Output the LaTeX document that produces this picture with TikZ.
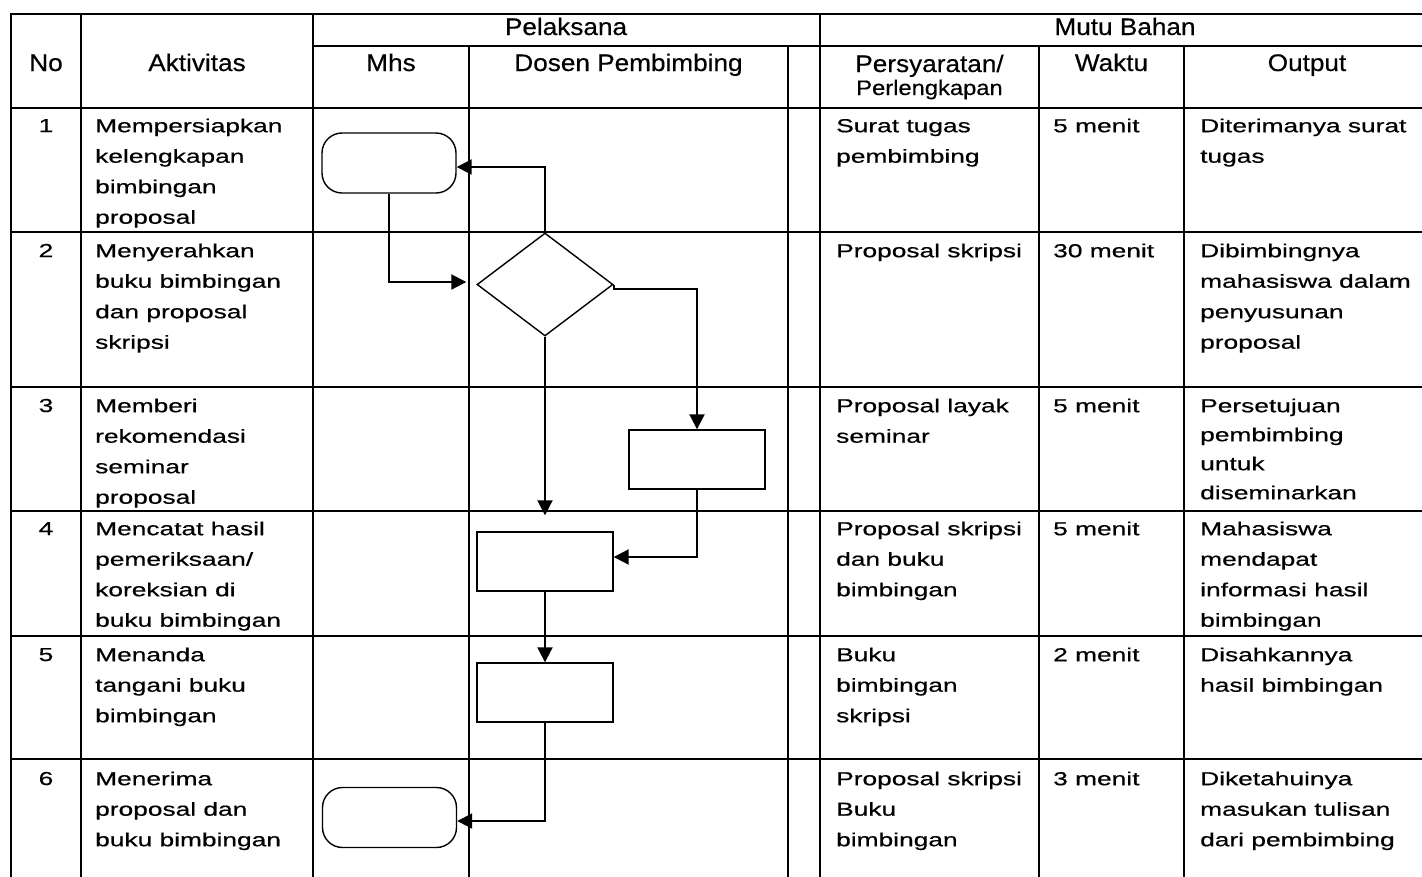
\documentclass[tikz,border=0pt]{standalone}
\usepackage{fontspec}
\setmainfont{Liberation Sans}
\newfontfamily\bodyfont[FakeStretch=1.4,FakeBold=0.6]{Liberation Sans}
\newfontfamily\headfont[FakeStretch=1.09,FakeBold=0.4]{Liberation Sans}
\newfontfamily\subheadfont[FakeStretch=1.13,FakeBold=0.4]{Liberation Sans}
\usetikzlibrary{shapes.geometric,arrows.meta}
\begin{document}
\begin{tikzpicture}[x=1pt,y=-1pt,
  grid/.style={line width=2pt},
  body/.style={anchor=north west, inner sep=0pt, align=left,
    font=\bodyfont\fontsize{18.8}{30.5}\selectfont},
  tight/.style={font=\bodyfont\fontsize{18.8}{29}\selectfont},
  num/.style={anchor=base, inner sep=0pt, font=\bodyfont\fontsize{18.8}{30.5}\selectfont},
  head/.style={anchor=base, inner sep=0pt, font=\headfont\fontsize{24}{28}\selectfont},
  subhead/.style={anchor=base, inner sep=0pt, font=\subheadfont\fontsize{21}{24}\selectfont},
  term/.style={draw, line width=1.4pt, rectangle, rounded corners=20pt,
    minimum width=134pt, minimum height=60pt, inner sep=0pt},
  proc/.style={draw, line width=1.4pt, rectangle,
    minimum width=136pt, minimum height=59pt, inner sep=0pt},
  decis/.style={draw, line width=1.4pt, diamond, aspect=1.32,
    minimum width=136pt, minimum height=103pt, inner sep=0pt},
  conn/.style={line width=2pt, -{Triangle[length=15pt,width=15pt]}}
]
\useasboundingbox (0,0) rectangle (1422,876);
\clip (0,0) rectangle (1422,876);

% ---------- grid ----------
\draw[grid] (10,14) -- (1440,14);
\draw[grid] (313,46) -- (1440,46);
\foreach \yy in {108,232,387,511,636,759}{
  \draw[grid] (10,\yy) -- (1440,\yy);
}
\foreach \xx in {11,81,313,820}{
  \draw[grid] (\xx,13) -- (\xx,900);
}
\foreach \xx in {469,788,1039,1184}{
  \draw[grid] (\xx,46) -- (\xx,900);
}

% ---------- headers ----------
\node[head] (hpel) at (566,35) {Pelaksana};
\node[head] (hmutu) at (1125,35) {Mutu Bahan};
\node[head] (hno) at (46,71) {No};
\node[head] (hakt) at (197,71) {Aktivitas};
\node[head] (hmhs) at (391,71) {Mhs};
\node[head] (hdos) at (628.5,71) {Dosen Pembimbing};
\node[head] (hper1) at (929.5,72) {Persyaratan/};
\node[subhead] (hper2) at (929.5,95) {Perlengkapan};
\node[head] (hwak) at (1111.5,71) {Waktu};
\node[head] (hout) at (1307,71) {Output};

% ---------- row 1 (baseline 132) ----------
\node[num] (n1) at (46,132) {1};
\node[body] (a1) at (95,110.65) {\strut Mempersiapkan\\kelengkapan\\bimbingan\\proposal};
\node[body] (p1) at (836,110.65) {\strut Surat tugas\\pembimbing};
\node[body] (w1) at (1053,110.65) {\strut 5 menit};
\node[body] (o1) at (1200,110.65) {\strut Diterimanya surat\\tugas};

% ---------- row 2 (baseline 257) ----------
\node[num] (n2) at (46,257) {2};
\node[body] (a2) at (95,235.65) {\strut Menyerahkan\\buku bimbingan\\dan proposal\\skripsi};
\node[body] (p2) at (836,235.65) {\strut Proposal skripsi};
\node[body] (w2) at (1053,235.65) {\strut 30 menit};
\node[body] (o2) at (1200,235.65) {\strut Dibimbingnya\\mahasiswa dalam\\penyusunan\\proposal};

% ---------- row 3 (baseline 412) ----------
\node[num] (n3) at (46,412) {3};
\node[body] (a3) at (95,390.65) {\strut Memberi\\rekomendasi\\seminar\\proposal};
\node[body] (p3) at (836,390.65) {\strut Proposal layak\\seminar};
\node[body] (w3) at (1053,390.65) {\strut 5 menit};
\node[body,tight] (o3) at (1200,391.7) {\strut Persetujuan\\pembimbing\\untuk\\diseminarkan};

% ---------- row 4 (baseline 535) ----------
\node[num] (n4) at (46,535) {4};
\node[body] (a4) at (95,513.65) {\strut Mencatat hasil\\pemeriksaan/\\koreksian di\\buku bimbingan};
\node[body] (p4) at (836,513.65) {\strut Proposal skripsi\\dan buku\\bimbingan};
\node[body] (w4) at (1053,513.65) {\strut 5 menit};
\node[body] (o4) at (1200,513.65) {\strut Mahasiswa\\mendapat\\informasi hasil\\bimbingan};

% ---------- row 5 (baseline 661) ----------
\node[num] (n5) at (46,661) {5};
\node[body] (a5) at (95,639.65) {\strut Menanda\\tangani buku\\bimbingan};
\node[body] (p5) at (836,639.65) {\strut Buku\\bimbingan\\skripsi};
\node[body] (w5) at (1053,639.65) {\strut 2 menit};
\node[body] (o5) at (1200,639.65) {\strut Disahkannya\\hasil bimbingan};

% ---------- row 6 (baseline 785) ----------
\node[num] (n6) at (46,785) {6};
\node[body] (a6) at (95,763.65) {\strut Menerima\\proposal dan\\buku bimbingan};
\node[body] (p6) at (836,763.65) {\strut Proposal skripsi\\Buku\\bimbingan};
\node[body] (w6) at (1053,763.65) {\strut 3 menit};
\node[body] (o6) at (1200,763.65) {\strut Diketahuinya\\masukan tulisan\\dari pembimbing};

% ---------- flowchart ----------
\node[term] (t1) at (389,163) {};
\node[decis] (d) at (545,284.5) {};
\node[proc] (b3) at (697,459.5) {};
\node[proc] (b4) at (545,561.5) {};
\node[proc] (b5) at (545,692.5) {};
\node[term] (t6) at (389.5,817.5) {};

\draw[conn, shorten >=10pt] (t1.south) |- ([yshift=2.5pt]d.west);
\draw[conn] (d.north) |- ([yshift=-4pt]t1.east);
\draw[conn] (d.east) -- ++(0,4.5) -| (b3.north);
\draw[conn, shorten >=16pt] (d.south) -- (b4.north);
\draw[conn] (b3.south) |- ([yshift=4.5pt]b4.east);
\draw[conn] (b4.south) -- (b5.north);
\draw[conn] (b5.south) |- ([yshift=-3.5pt]t6.east);
\end{tikzpicture}
\end{document}
